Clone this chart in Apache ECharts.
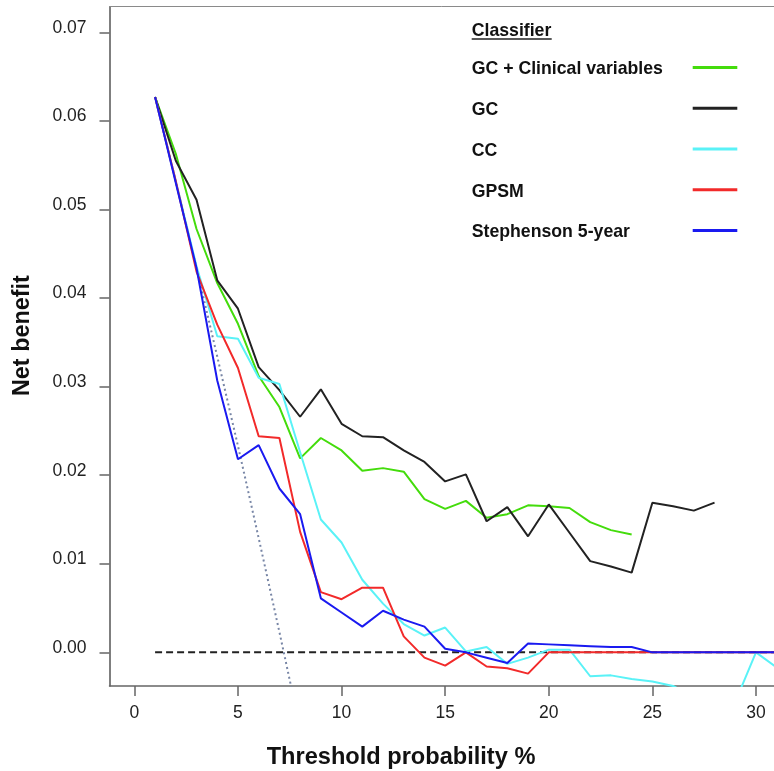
<!DOCTYPE html>
<html>
<head>
<meta charset="utf-8">
<script src="https://cdn.jsdelivr.net/npm/echarts@6/dist/echarts.min.js"></script>
<style>
html,body{margin:0;padding:0;background:#fff;}
#chart{width:774px;height:771px;}
</style>
</head>
<body>
<div id="chart"></div>
<script>
// ---- data ----
const thresholds = [1,2,3,4,5,6,7,8,9,10,11,12,13,14,15,16,17,18,19,20,21,22,23,24,25,26,27,28,29,30,31];
const gcClinical = [0.0627,0.0563,0.0478,0.0417,0.0371,0.0312,0.0277,0.0219,0.0242,0.0228,0.0205,0.0208,0.0204,0.0173,0.0162,0.0171,0.0152,0.0156,0.0166,0.0165,0.0163,0.0147,0.0138,0.0133];
const gc = [0.0627,0.0555,0.0511,0.0420,0.0388,0.0322,0.0296,0.0266,0.0297,0.0258,0.0244,0.0243,0.0228,0.0215,0.0193,0.0201,0.0148,0.0164,0.0131,0.0167,0.0135,0.0103,0.0097,0.0090,0.0169,0.0165,0.0160,0.0169];
const cc = [0.0627,0.0532,0.0436,0.0357,0.0354,0.0310,0.0303,0.0226,0.0150,0.0124,0.0082,0.0055,0.0032,0.0019,0.0028,0.0001,0.0006,-0.0013,-0.0006,0.0003,0.0003,-0.0027,-0.0026,-0.0030,-0.0033,-0.0038,-0.0050,-0.0055,-0.0056,0.0000,-0.0017];
const gpsm = [0.0627,0.0532,0.0430,0.0370,0.0321,0.0244,0.0242,0.0136,0.0068,0.0060,0.0073,0.0073,0.0018,-0.0006,-0.0015,0.0000,-0.0016,-0.0018,-0.0024,0,0,0,0,0,0,0,0,0,0,0,0];
const stephenson = [0.0627,0.0530,0.0434,0.0307,0.0218,0.0234,0.0185,0.0156,0.0061,0.0045,0.0029,0.0047,0.0037,0.0029,0.0004,0.0000,-0.0006,-0.0012,0.0010,0.0009,0.0008,0.0007,0.0006,0.0006,0,0,0,0,0,0,0];
const treatAll = [0.0627,0.0532,0.0434,0.0334,0.0233,0.0129,0.0023,-0.0086];
const treatNone = [0,0,0,0,0,0,0,0,0,0,0,0,0,0,0,0,0,0,0,0,0,0,0,0,0,0,0,0,0,0,0];
const xTicks = [0,5,10,15,20,25,30];
const yTicks = [0,0.01,0.02,0.03,0.04,0.05,0.06,0.07];
const names = ['GC + Clinical variables','GC','CC','GPSM','Stephenson 5-year'];
const colors = ['#44dc0c','#222222','#5af2f7','#f22a2a','#1a1af0'];
const xTitle = 'Threshold probability %';
const yTitle = 'Net benefit';
const legendTitle = 'Classifier';

const FONT = '"Liberation Sans", Arial, Helvetica, sans-serif';
function pairs(arr){ return arr.map((v,i)=>[thresholds[i], v]); }

const chart = echarts.init(document.getElementById('chart'), null, {renderer:'canvas'});

function lineSeries(name, arr, color, z){
  return {
    name: name, type:'line', data: pairs(arr), color: color,
    symbol:'none', showSymbol:false, clip:true, z: z,
    lineStyle:{color:color, width:2}, emphasis:{disabled:true}
  };
}

const legendGraphics = [];
names.forEach((n,i)=>{
  const cy = 69.5 + i*40.75;
  legendGraphics.push({type:'text', x:471.7, y:cy, style:{text:n, font:'bold 17.7px '+FONT, fill:'#111', verticalAlign:'middle', align:'left'}});
  legendGraphics.push({type:'line', shape:{x1:692.7, y1:cy-2, x2:737.3, y2:cy-2}, style:{stroke:colors[i], lineWidth:3}});
});

const X_MIN = -1.2, X_MAX = 30.87;
const option = {
  animation:false,
  backgroundColor:'#ffffff',
  grid:{left:109.5, top:6.7, right:0, bottom:85, show:false, containLabel:false},
  xAxis:[{
    type:'value', min:X_MIN, max:X_MAX,
    axisLine:{show:true, onZero:false, lineStyle:{color:'#666', width:1.5}},
    axisTick:{show:true, customValues:xTicks, length:10, lineStyle:{color:'#666', width:1.5}},
    axisLabel:{customValues:xTicks, margin:18, fontSize:17.5, color:'#222', fontFamily:FONT},
    splitLine:{show:false}
  },{
    type:'value', position:'top', min:X_MIN, max:X_MAX,
    axisLine:{show:true, onZero:false, lineStyle:{color:'#8a8a8a', width:1}},
    axisTick:{show:false}, axisLabel:{show:false}, splitLine:{show:false}
  }],
  yAxis:{
    type:'value', min:-0.0038, max:0.0729,
    axisLine:{show:true, onZero:false, lineStyle:{color:'#555', width:1.5}},
    axisTick:{show:true, customValues:yTicks, length:10, lineStyle:{color:'#666', width:1.5}},
    axisLabel:{customValues:yTicks, margin:23, fontSize:17.5, color:'#222', fontFamily:FONT,
      formatter:(v)=>v.toFixed(2), verticalAlign:'bottom', lineHeight:9},
    splitLine:{show:false}
  },
  graphic:[
    {type:'text', left:471.7, top:22, style:{text:legendTitle, font:'bold 17.7px '+FONT, fill:'#111'}},
    {type:'line', shape:{x1:471.7, y1:39, x2:551.7, y2:39}, style:{stroke:'#222', lineWidth:1.5}},
    ...legendGraphics,
    {type:'text', x:23, y:335.6, rotation:Math.PI/2, style:{text:yTitle, font:'bold 23.4px '+FONT, fill:'#111', align:'center', verticalAlign:'middle'}},
    {type:'text', x:401, y:757.6, style:{text:xTitle, font:'bold 23.6px '+FONT, fill:'#111', align:'center', verticalAlign:'middle'}}
  ],
  series:[
    {name:'Treat all', type:'line', data:pairs(treatAll), symbol:'none', clip:true, z:1,
      lineStyle:{color:'#7886a6', width:2, type:[2,3]}, emphasis:{disabled:true}},
    {name:'Treat none', type:'line', data:pairs(treatNone), symbol:'none', clip:true, z:1,
      lineStyle:{color:'#222', width:2, type:[7,4]}, emphasis:{disabled:true}},
    lineSeries(names[0], gcClinical, colors[0], 2),
    lineSeries(names[1], gc, colors[1], 2),
    lineSeries(names[2], cc, colors[2], 2),
    lineSeries(names[3], gpsm, colors[3], 2),
    lineSeries(names[4], stephenson, colors[4], 2)
  ]
};
chart.setOption(option);
</script>
</body>
</html>
